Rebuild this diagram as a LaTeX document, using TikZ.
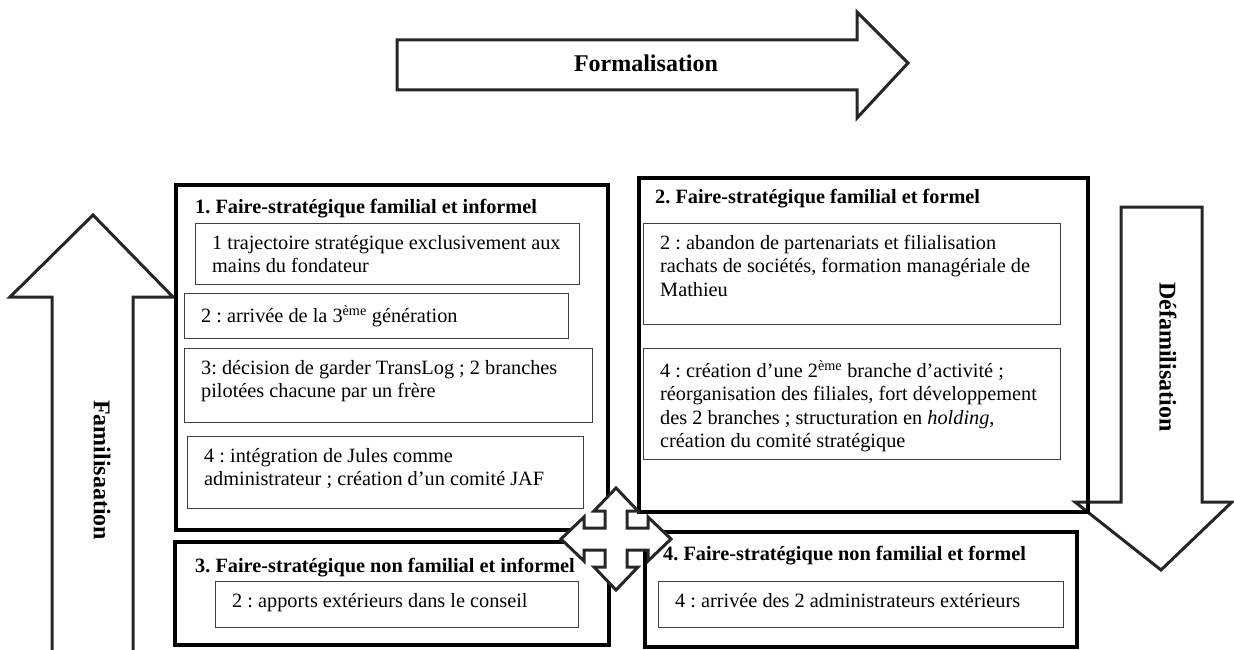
\documentclass[tikz,border=0pt]{standalone}
\usepackage{fontspec}
\setmainfont{Liberation Serif}
\usetikzlibrary{calc}
\frenchspacing

\begin{document}
\begin{tikzpicture}[x=1pt, y=-1pt]
            \tikzstyle{frame} = [draw=black, line width=3.5pt, anchor=north west, inner sep=0pt]
            \tikzstyle{itembox} = [draw=black!75, line width=1.4pt, anchor=north west, inner sep=0pt]
            \tikzstyle{itemtext} = [anchor=north west, align=left, inner xsep=17pt, inner ysep=12pt, font=\fontsize{20.3}{23.3}\selectfont]
            \tikzstyle{heading} = [anchor=west, inner sep=0pt, font=\fontsize{20.3}{23.3}\selectfont\bfseries]
            \tikzstyle{bigarrow} = [draw=black!85, line width=3pt, line join=miter, fill=white]
            \tikzstyle{arrowlabel} = [font=\fontsize{24}{28}\selectfont\bfseries]
            \useasboundingbox (0, 0) rectangle (1234, 650);
            % fleches de tendance
            \draw[bigarrow] (397, 40) -- (857, 40) -- (857, 12) -- (908, 63) -- (857, 118) -- (857, 90) -- (397, 90) -- cycle;
            \node[arrowlabel] (formal) at (646, 63) {Formalisation};
            \draw[bigarrow] (52, 650) -- (52, 297) -- (10, 297) -- (93, 215) -- (173, 297) -- (133, 297) -- (133, 650);
            \node[arrowlabel, rotate=-90] (famil) at (102, 470) {Familisaation};
            \draw[bigarrow] (1121, 207) -- (1202, 207) -- (1202, 502) -- (1232, 502) -- (1161, 570) -- (1075, 502) -- (1121, 502) -- cycle;
            \node[arrowlabel, rotate=-90] (defamil) at (1168, 357) {Défamilisation};
            % quadrant 1
            \node[frame, minimum width=432pt, minimum height=345pt] (q1) at (174, 183) {};
            \node[heading] (h1) at (195, 209) {1. Faire-stratégique familial et informel};
            \node[itembox, minimum width=384pt, minimum height=61pt] (b1a) at (195, 223) {};
            \node[itemtext] at (b1a.north west) {1 trajectoire stratégique exclusivement aux\\mains du fondateur};
            \node[itembox, minimum width=384pt, minimum height=45pt] (b1b) at (184, 293) {};
            \node[itemtext] at (b1b.north west) {2 : arrivée de la 3\textsuperscript{ème} génération};
            \node[itembox, minimum width=408pt, minimum height=74pt] (b1c) at (184, 348) {};
            \node[itemtext] at (b1c.north west) {3: décision de garder TransLog ; 2 branches\\pilotées chacune par un frère};
            \node[itembox, minimum width=396pt, minimum height=72pt] (b1d) at (187, 436) {};
            \node[itemtext] at (b1d.north west) {4 : intégration de Jules comme\\administrateur ; création d’un comité JAF};
            % quadrant 2
            \node[frame, minimum width=449pt, minimum height=334pt] (q2) at (637, 176) {};
            \node[heading] (h2) at (655, 199) {2. Faire-stratégique familial et formel};
            \node[itembox, minimum width=417pt, minimum height=101pt] (b2a) at (643, 223) {};
            \node[itemtext] at (b2a.north west) {2 : abandon de partenariats et filialisation\\rachats de sociétés, formation managériale de\\Mathieu};
            \node[itembox, minimum width=417pt, minimum height=111pt] (b2b) at (643, 348) {};
            \node[itemtext] at (b2b.north west) {4 : création d’une 2\textsuperscript{ème} branche d’activité ;\\réorganisation des filiales, fort développement\\des 2 branches ; structuration en \textit{holding},\\création du comité stratégique};
            % quadrant 3
            \node[frame, minimum width=434pt, minimum height=103pt] (q3) at (173, 540) {};
            \node[heading] (h3) at (195, 568) {3. Faire-stratégique non familial et informel};
            \node[itembox, minimum width=363pt, minimum height=46pt] (b3a) at (215, 581) {};
            \node[itemtext] at (b3a.north west) {2 : apports extérieurs dans le conseil};
            % quadrant 4
            \node[frame, minimum width=432pt, minimum height=115pt] (q4) at (643, 530) {};
            \node[heading] (h4) at (663, 556) {4. Faire-stratégique non familial et formel};
            \node[itembox, minimum width=405pt, minimum height=46pt] (b4a) at (658, 581) {};
            \node[itemtext] at (b4a.north west) {4 : arrivée des 2 administrateurs extérieurs};
            % fleche a quatre branches
            \begin{scope}[shift={(616, 539)}]
                \draw[bigarrow] (0, -51) -- (22, -28) -- (11, -28) -- (11, -11) -- (32, -11) -- (32, -22) -- (55, 0)
                    -- (32, 22) -- (32, 11) -- (11, 11) -- (11, 28) -- (22, 28) -- (0, 51)
                    -- (-22, 28) -- (-11, 28) -- (-11, 11) -- (-32, 11) -- (-32, 22) -- (-55, 0)
                    -- (-32, -22) -- (-32, -11) -- (-11, -11) -- (-11, -28) -- (-22, -28) -- cycle;
            \end{scope}
        \end{tikzpicture}
\end{document}
